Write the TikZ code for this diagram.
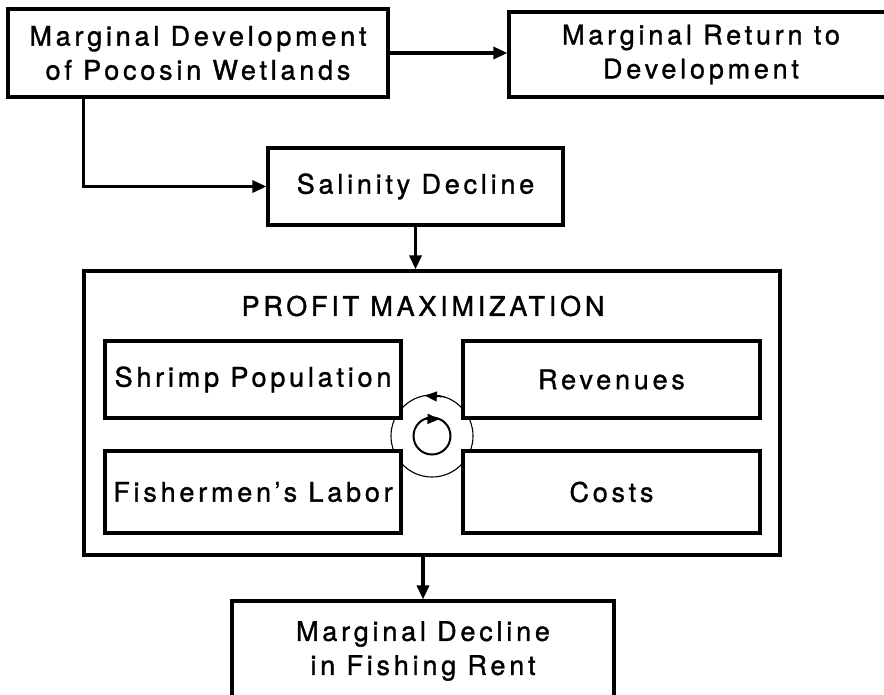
\documentclass[tikz,border=0pt]{standalone}
\usepackage{fontspec}
\setmainfont{TeX Gyre Heros}[LetterSpace=14, FakeBold=1.2]
\usetikzlibrary{arrows.meta}

\begin{document}
\begin{tikzpicture}[x=1pt, y=-1pt,
		box/.style={draw, line width=3.2pt, fill=white, align=center, inner sep=0pt,
			font=\fontsize{27}{34}\selectfont},
		arr/.style={line width=3.2pt, -{Triangle[length=14pt, width=12pt]}},
		cyclearr/.style={-{Triangle[length=12pt, width=10pt]}}]
				\useasboundingbox (0,0) rectangle (884,694);
				\clip (0,0) rectangle (884,694);
				
				% Top row
				\node[box, minimum width=380pt, minimum height=88pt] (dev) at (198,53) {Marginal Development\\of Pocosin Wetlands};
				\node[box, minimum width=384pt, minimum height=85pt] (ret) at (701,54.5) {Marginal Return to\\Development};
				
				\node[box, minimum width=295pt, minimum height=77pt] (sal) at (415.5,186.5) {Salinity Decline};
				
				% Profit maximization frame
				\node[box, minimum width=696pt, minimum height=284pt] (pm) at (432,413) {};
				\node[font=\fontsize{27}{34}\selectfont, inner sep=0pt] (title) at (423,306) {PROFIT MAXIMIZATION};
				
				% Cycle in the middle
				\coordinate (cyc) at (432,436);
				\draw[line width=1.1pt] (cyc) circle[radius=41pt];
				\draw[line width=2pt] (cyc) circle[radius=18.5pt];
				
				% Four inner boxes (drawn over the circle)
				\node[box, minimum width=296pt, minimum height=77pt] (shrimp) at (253,379.5) {Shrimp Population};
				\node[box, minimum width=297pt, minimum height=77pt] (rev) at (611.5,379.5) {Revenues};
				\node[box, minimum width=296pt, minimum height=82pt] (labor) at (253,492) {Fishermen's Labor};
				\node[box, minimum width=297pt, minimum height=82pt] (cost) at (611.5,492) {Costs};
				
				\draw[cyclearr, line width=1.1pt] ([shift={(72:41pt)}]cyc) -- ([shift={(100:41pt)}]cyc); % outer, to the left
				\draw[cyclearr, line width=2pt] ([shift={(112:18.5pt)}]cyc) -- ([shift={(66:18.5pt)}]cyc); % inner, to the right
				
				\node[box, minimum width=382pt, minimum height=100pt] (fin) at (423,651) {Marginal Decline\\in Fishing Rent};
				
				% Arrows
				\draw[arr] (dev.east) -- (dev.east -| ret.west);
				\draw[arr] ([xshift=77pt]dev.south west) |- (sal.west);
				\draw[arr] (sal.south) -- (sal.south |- pm.north);
				\draw[arr] (fin.north |- pm.south) -- (fin.north);
			\end{tikzpicture}
\end{document}
